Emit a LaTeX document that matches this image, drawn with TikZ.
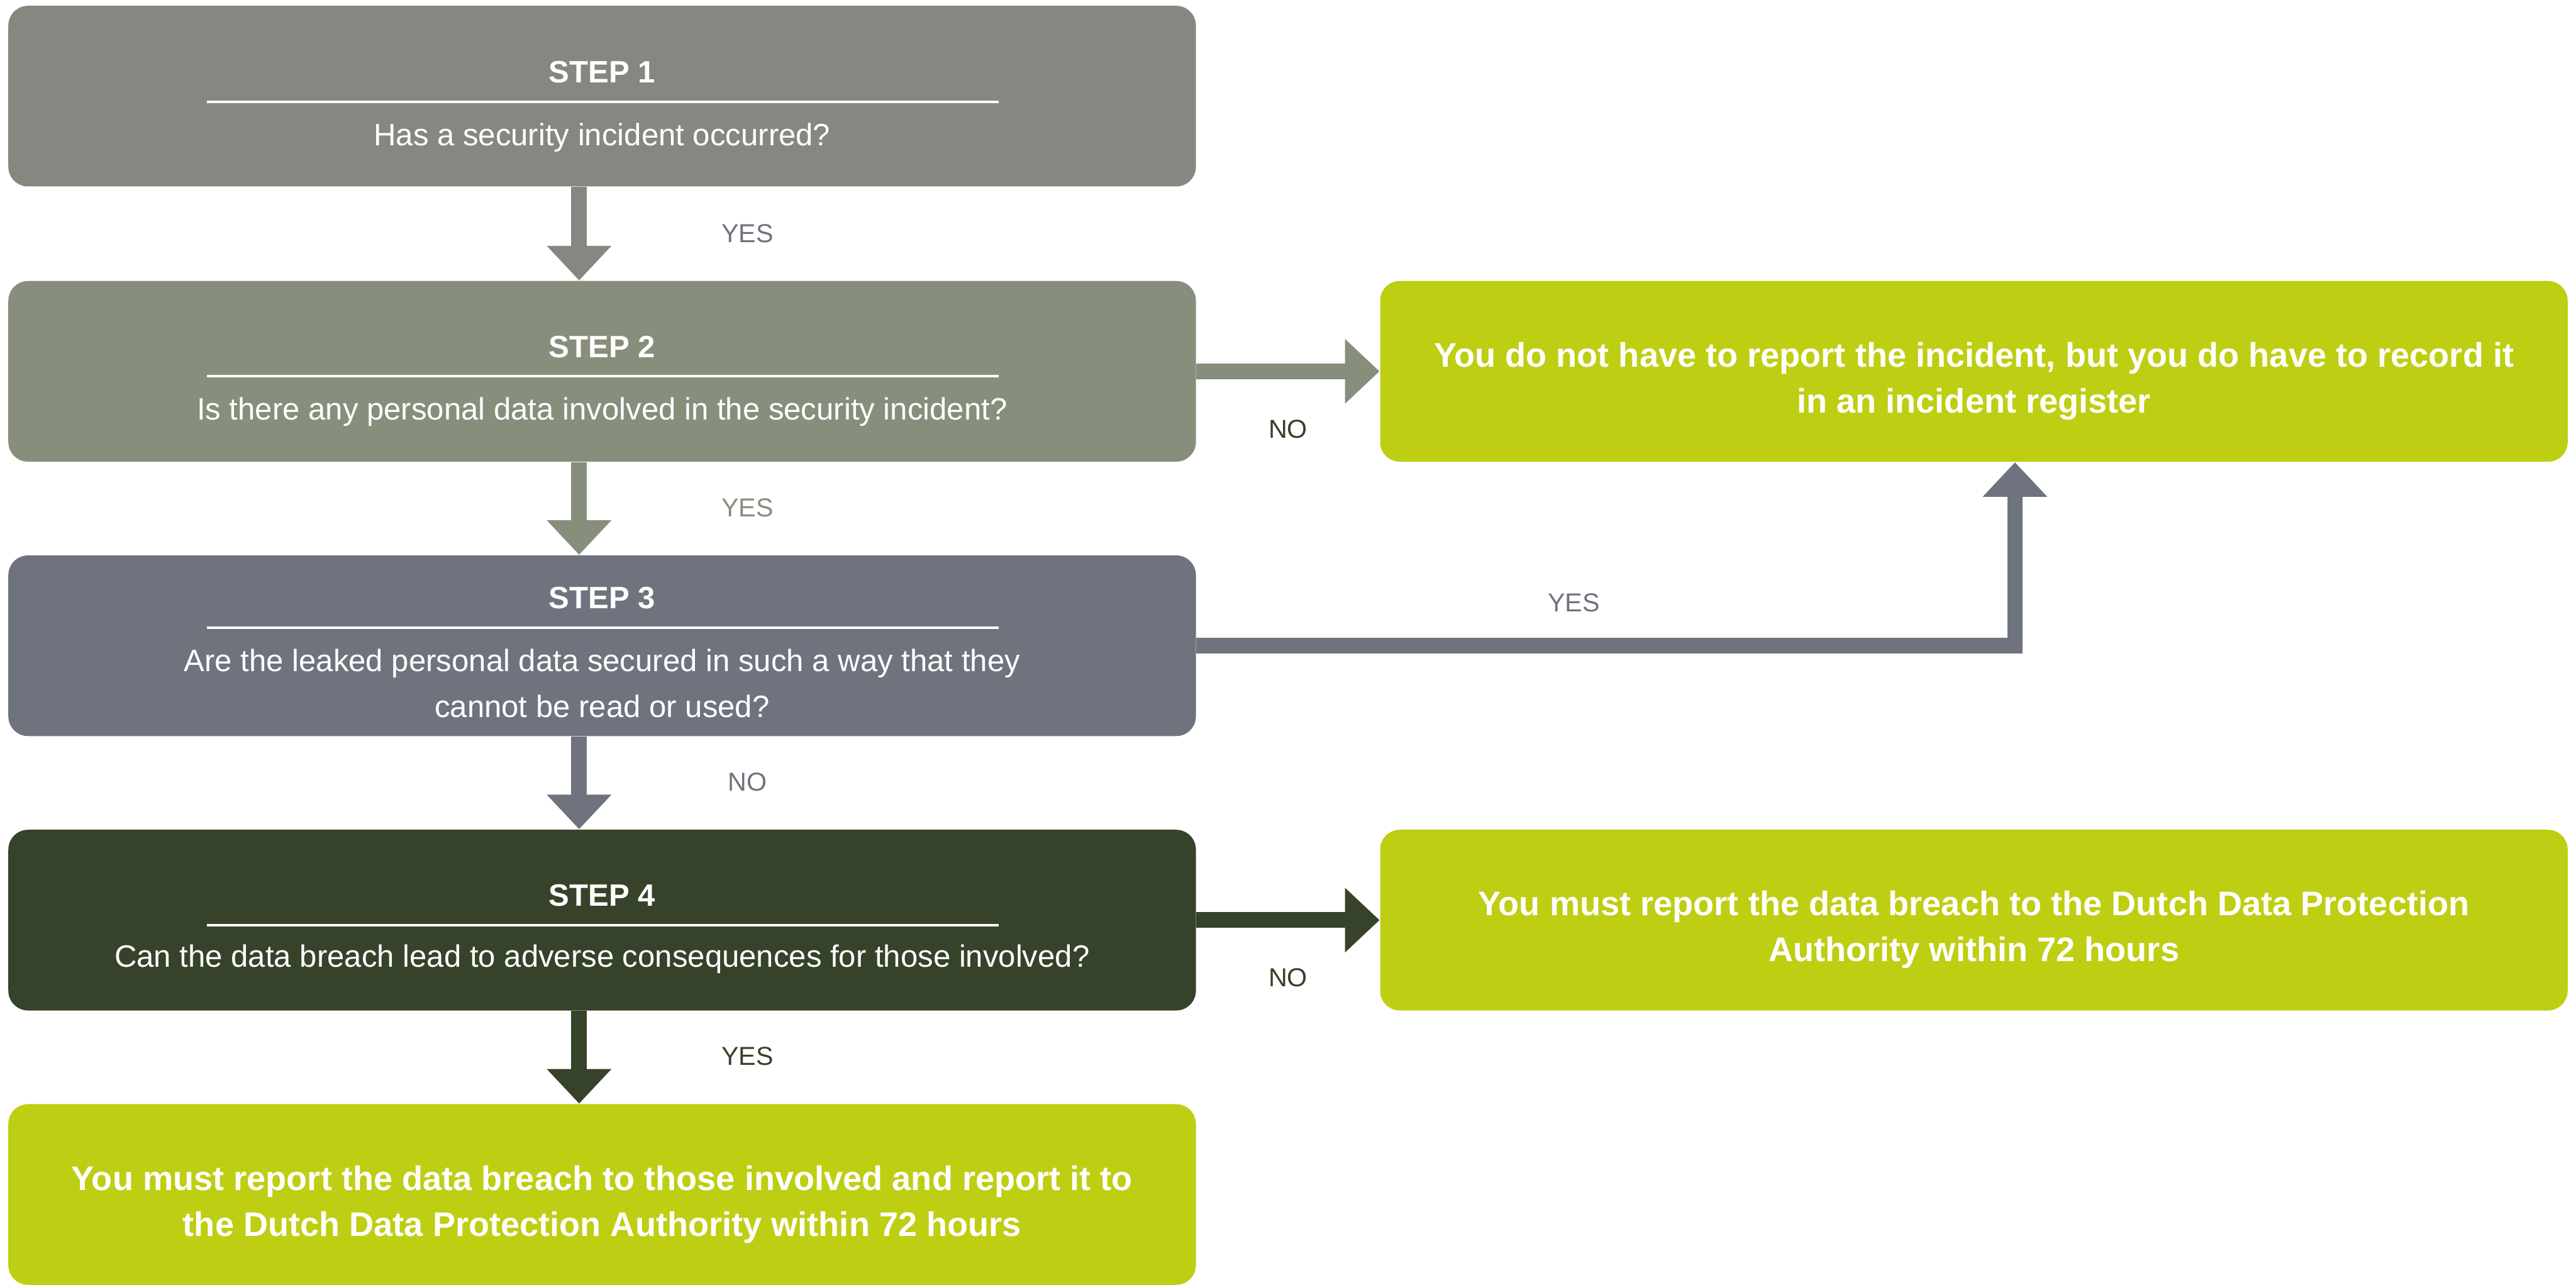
\documentclass[tikz,border=0pt]{standalone}
\usepackage{fontspec}
\setmainfont{Liberation Sans}
\usetikzlibrary{arrows.meta,positioning}
\definecolor{stepA}{HTML}{878781}
\definecolor{stepB}{HTML}{878F7C}
\definecolor{stepC}{HTML}{6F737D}
\definecolor{stepD}{HTML}{36432A}
\definecolor{lime}{HTML}{BECE12}
\tikzset{
  flowbox/.style={rounded corners=0.24cm,minimum width=14.46cm,minimum height=2.2cm,inner sep=0pt},
  stepbox/.style={flowbox,fill=#1},
  endbox/.style={flowbox,fill=lime,text=white,align=center,text height=1.1cm,text depth=0.09cm,
    font=\bfseries\fontsize{11.8}{15.9}\selectfont},
  steptitle/.style={anchor=base,text=white,font=\bfseries\fontsize{10.7}{15.9}\selectfont},
  stepq/.style={anchor=base,text=white,align=center,font=\fontsize{10.7}{15.9}\selectfont},
  steprule/.style={white,line width=0.8pt},
  flow/.style={line width=0.19cm,-{Triangle[length=0.42cm,width=0.76cm]}},
  answer/.style={font=\fontsize{9}{11}\selectfont},
}
\begin{document}
\begin{tikzpicture}[x=0.02cm,y=-0.02cm]
\useasboundingbox (0,0) rectangle (1568,782);
% Steps
\node[stepbox=stepA] (s1) at (366.5,58.5) {};
\node[steptitle] (s1h) at (366.5,50.5) {STEP 1};
\draw[steprule] (126,62) -- (608,62);
\node[stepq] (s1q) at (366.5,88.5) {Has a security incident occurred?};

\node[stepbox=stepB] (s2) at (366.5,226) {};
\node[steptitle] (s2h) at (366.5,217.5) {STEP 2};
\draw[steprule] (126,229) -- (608,229);
\node[stepq] (s2q) at (366.5,255.5) {Is there any personal data involved in the security incident?};

\node[stepbox=stepC] (s3) at (366.5,393) {};
\node[steptitle] (s3h) at (366.5,370.5) {STEP 3};
\draw[steprule] (126,382) -- (608,382);
\node[stepq] (s3q) at (366.5,436.5) {Are the leaked personal data secured in such a way that they\\cannot be read or used?};

\node[stepbox=stepD] (s4) at (366.5,560) {};
\node[steptitle] (s4h) at (366.5,551.5) {STEP 4};
\draw[steprule] (126,563) -- (608,563);
\node[stepq] (s4q) at (366.5,588.5) {Can the data breach lead to adverse consequences for those involved?};

% Outcomes
\node[endbox] (register) at (1201.5,226) {You do not have to report the incident, but you do have to record it\\in an incident register};
\node[endbox] (notify) at (1201.5,560) {You must report the data breach to the Dutch Data Protection\\Authority within 72 hours};
\node[endbox] (notifyall) at (366.5,727) {You must report the data breach to those involved and report it to\\the Dutch Data Protection Authority within 72 hours};

% Arrows
\coordinate (spine) at (352.5,0);
\coordinate (riser) at (1226.5,0);
\draw[flow,stepA] (s1.south -| spine) -- (s2.north -| spine);
\draw[flow,stepB] (s2.south -| spine) -- (s3.north -| spine);
\draw[flow,stepC] (s3.south -| spine) -- (s4.north -| spine);
\draw[flow,stepD] (s4.south -| spine) -- (notifyall.north -| spine);
\draw[flow,stepB] (s2.east) -- (register.west);
\draw[flow,stepC] (s3.east) -| (register.south -| riser);
\draw[flow,stepD] (s4.east) -- (notify.west);

% Answers
\node[answer,text=stepC] (a1) at (455,142) {YES};
\node[answer,text=stepB] (a2) at (455,309) {YES};
\node[answer,text=stepC] (a3) at (455,476) {NO};
\node[answer,text=stepD] (a4) at (455,643) {YES};
\node[answer,text=stepD] (a5) at (784,261) {NO};
\node[answer,text=stepC] (a6) at (958,367) {YES};
\node[answer,text=stepD] (a7) at (784,595) {NO};
\end{tikzpicture}
\end{document}
